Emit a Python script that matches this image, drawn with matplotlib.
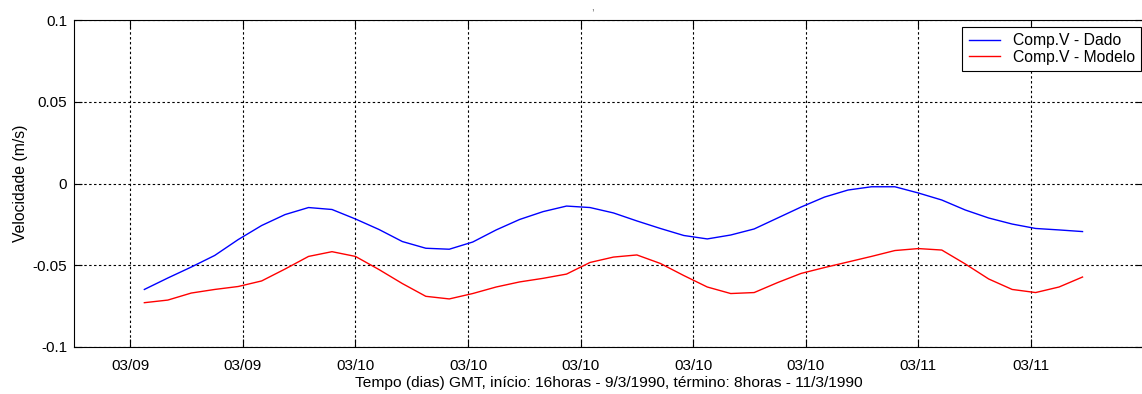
import matplotlib
matplotlib.use("Agg")
import matplotlib.pyplot as plt
import numpy as np

# Hourly samples, time in days of March 1990 (start 15h on 9/3)
start_hour = 15
n_hours = 41

comp_v_dado = [
    -0.0648, -0.0578, -0.0511, -0.0440, -0.0343, -0.0257, -0.0190, -0.0147,
    -0.0159, -0.0217, -0.0281, -0.0355, -0.0396, -0.0402, -0.0358, -0.0284,
    -0.0220, -0.0172, -0.0138, -0.0147, -0.0180, -0.0229, -0.0275, -0.0318,
    -0.0339, -0.0315, -0.0278, -0.0211, -0.0144, -0.0083, -0.0040, -0.0020,
    -0.0020, -0.0058, -0.0101, -0.0162, -0.0211, -0.0248, -0.0275, -0.0284,
    -0.0294,
]

comp_v_modelo = [
    -0.0729, -0.0713, -0.0670, -0.0648, -0.0630, -0.0596, -0.0523, -0.0446,
    -0.0417, -0.0446, -0.0526, -0.0612, -0.0690, -0.0706, -0.0673, -0.0633,
    -0.0602, -0.0580, -0.0554, -0.0483, -0.0450, -0.0437, -0.0489, -0.0563,
    -0.0633, -0.0673, -0.0667, -0.0606, -0.0550, -0.0514, -0.0480, -0.0446,
    -0.0410, -0.0398, -0.0407, -0.0492, -0.0584, -0.0648, -0.0667, -0.0633,
    -0.0572,
]

tick_days = [9.6, 9.8, 10.0, 10.2, 10.4, 10.6, 10.8, 11.0, 11.2]
tick_labels = ["03/09", "03/09", "03/10", "03/10", "03/10",
               "03/10", "03/10", "03/11", "03/11"]
y_ticks = [-0.1, -0.05, 0, 0.05, 0.1]
y_tick_labels = ["-0.1", "-0.05", "0", "0.05", "0.1"]

t = 9 + (start_hour + np.arange(n_hours)) / 24.0

plt.rcParams["font.family"] = ["Liberation Sans", "DejaVu Sans"]
plt.rcParams["font.size"] = 11

W, H = 1142, 394
fig = plt.figure(figsize=(W / 100, H / 100), dpi=100)
ax = fig.add_axes([74 / W, (H - 347) / H, (1143.5 - 74) / W, (347 - 20) / H])

ax.plot(t, comp_v_dado, color=(0, 0, 1), lw=1.0, label="Comp.V - Dado")
ax.plot(t, comp_v_modelo, color=(1, 0, 0), lw=1.0, label="Comp.V - Modelo")

ax.set_xlim(9.5, 11.4)
ax.set_ylim(-0.1, 0.1)
ax.set_xticks(tick_days)
ax.set_xticklabels(tick_labels)
ax.set_yticks(y_ticks)
ax.set_yticklabels(y_tick_labels)

ax.grid(True, color="black", linestyle=(0, (2.2, 2.2)), linewidth=0.8)
ax.tick_params(direction="in", length=6, width=0.8, top=True, right=True,
               labelsize=11, colors="black")
ax.tick_params(axis="x", pad=9)
ax.tick_params(axis="y", pad=5)
for sp in ax.spines.values():
    sp.set_linewidth(0.8)

ax.set_ylabel("Velocidade (m/s)", fontsize=11.3, labelpad=3)
ax.set_xlabel("Tempo (dias) GMT, início: 16horas - 9/3/1990, término: 8horas - 11/3/1990",
              fontsize=11.15, labelpad=2)

leg = ax.legend(loc="upper right", bbox_to_anchor=(1141 / W, (H - 27) / H),
                bbox_transform=fig.transFigure, borderaxespad=0,
                fancybox=False, framealpha=1, edgecolor="black",
                handlelength=2.0, handletextpad=0.8, borderpad=0.4,
                labelspacing=0.1, fontsize=11.3)
leg.get_frame().set_linewidth(0.8)

fig.text(592 / W, 1 - 8 / H, ",", fontsize=7, ha="center", va="center", color="#444444")

fig.savefig("out.png", dpi=100)
